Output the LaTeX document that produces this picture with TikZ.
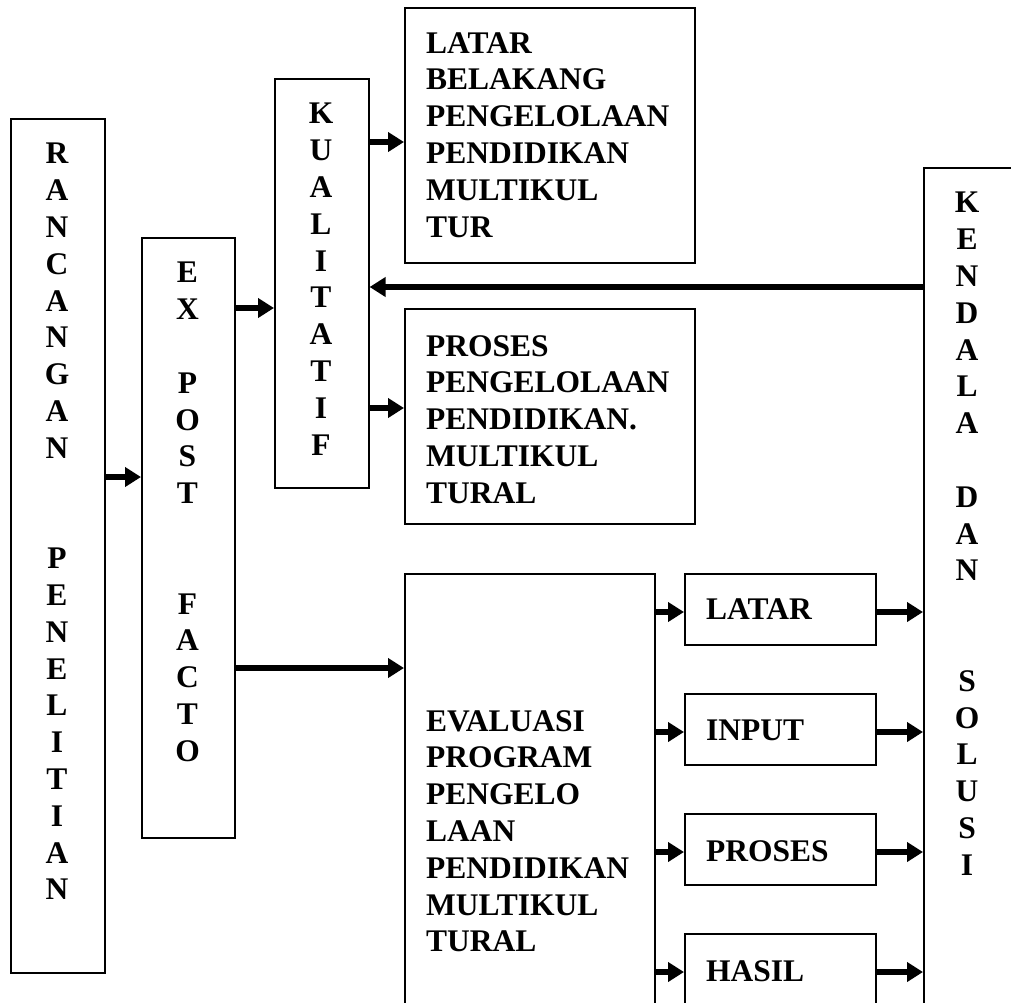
\documentclass[tikz,border=0pt]{standalone}
\usepackage{fontspec}
\setmainfont{Liberation Serif}
\usetikzlibrary{arrows.meta}
\begin{document}
\begin{tikzpicture}[x=1pt,y=-1pt,
  box/.style={draw,line width=1.6pt,inner sep=0pt,anchor=north west},
  txt/.style={inner sep=0pt,font=\fontsize{31.5}{36.8}\selectfont\bfseries},
  vtxt/.style={txt,align=center,anchor=north},
  htxt/.style={txt,align=left,anchor=north west},
  arr/.style={line width=5.5pt,-{Triangle[length=16pt,width=19pt]}}]
\useasboundingbox (0,0) rectangle (1011,1002);
\begin{scope}
\clip (0,0) rectangle (1011,1002);
% boxes
\node[box,minimum width=94pt,minimum height=854pt] (ran) at (10,118) {};
\node[box,minimum width=93pt,minimum height=600pt] (ex) at (141,237) {};
\node[box,minimum width=94pt,minimum height=409pt] (kual) at (274,78) {};
\node[box,minimum width=290pt,minimum height=255pt] (lb) at (404,7) {};
\node[box,minimum width=290pt,minimum height=215pt] (pr) at (404,308) {};
\node[box,minimum width=250pt,minimum height=450pt] (ev) at (404,573) {};
\node[box,minimum width=191pt,minimum height=71pt] (s1) at (684,573) {};
\node[box,minimum width=191pt,minimum height=71pt] (s2) at (684,693) {};
\node[box,minimum width=191pt,minimum height=71pt] (s3) at (684,813) {};
\node[box,minimum width=191pt,minimum height=100pt] (s4) at (684,933) {};
\node[box,minimum width=100pt,minimum height=860pt] (ken) at (923,167) {};
\end{scope}
% texts
\node[vtxt] (tran) at (57,143) {R\\A\\N\\C\\A\\N\\G\\A\\N\\~\\~\\P\\E\\N\\E\\L\\I\\T\\I\\A\\N};
\node[vtxt] (tex) at (187.5,262) {E\\X\\~\\P\\O\\S\\T\\~\\~\\F\\A\\C\\T\\O};
\node[vtxt] (tkual) at (321,103) {K\\U\\A\\L\\I\\T\\A\\T\\I\\F};
\node[vtxt] (tken) at (967,192) {K\\E\\N\\D\\A\\L\\A\\~\\D\\A\\N\\~\\~\\S\\O\\L\\U\\S\\I};
\node[htxt] (tlb) at (426,32) {LATAR\\BELAKANG\\PENGELOLAAN\\PENDIDIKAN\\MULTIKUL\\TUR};
\node[htxt] (tpr) at (426,335) {PROSES\\PENGELOLAAN\\PENDIDIKAN.\\MULTIKUL\\TURAL};
\node[htxt] (tev) at (426,710) {EVALUASI\\PROGRAM\\PENGELO\\LAAN\\PENDIDIKAN\\MULTIKUL\\TURAL};
\node[htxt] (ts1) at (706,598) {LATAR};
\node[htxt] (ts2) at (706,720) {INPUT};
\node[htxt] (ts3) at (706,840) {PROSES};
\node[htxt] (ts4) at (706,960) {HASIL};
% connectors
\draw[arr] (ran.east |- 0,477) -- (ex.west |- 0,477);
\draw[arr] (ex.east |- 0,308) -- (kual.west |- 0,308);
\draw[arr] (kual.east |- 0,142) -- (lb.west |- 0,142);
\draw[arr] (kual.east |- 0,408) -- (pr.west |- 0,408);
\draw[arr] (ken.west |- 0,287) -- (kual.east |- 0,287);
\draw[arr] (ex.east |- 0,668) -- (ev.west |- 0,668);
\draw[arr] (ev.east |- 0,612) -- (s1.west |- 0,612);
\draw[arr] (ev.east |- 0,732) -- (s2.west |- 0,732);
\draw[arr] (ev.east |- 0,852) -- (s3.west |- 0,852);
\draw[arr] (ev.east |- 0,972) -- (s4.west |- 0,972);
\draw[arr] (s1.east |- 0,612) -- (ken.west |- 0,612);
\draw[arr] (s2.east |- 0,732) -- (ken.west |- 0,732);
\draw[arr] (s3.east |- 0,852) -- (ken.west |- 0,852);
\draw[arr] (s4.east |- 0,972) -- (ken.west |- 0,972);
\end{tikzpicture}
\end{document}
